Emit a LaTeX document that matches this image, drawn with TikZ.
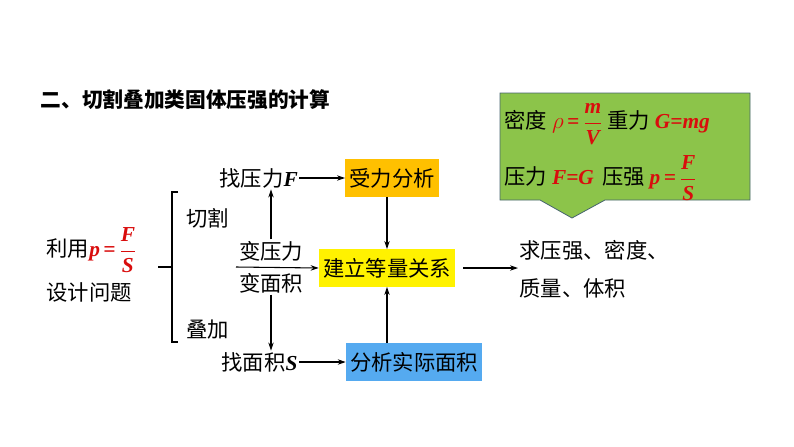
\documentclass[tikz,border=0pt]{standalone}
\usepackage{amsmath}
\usepackage{fontspec}
\setmainfont{Liberation Serif}
\newfontfamily\cjk{Noto Sans CJK SC}
\newfontfamily\tms{Liberation Serif}
\usetikzlibrary{arrows.meta}
\definecolor{vred}{rgb}{0.85,0.05,0.05}
\newcommand{\vr}[1]{{\tms\bfseries\itshape\color{vred}#1}}
\newcommand{\vb}[1]{{\tms\bfseries\itshape #1}}
\newcommand{\fr}[2]{{\color{vred}$\dfrac{\text{\tms\bfseries\itshape #1}}{\text{\tms\bfseries\itshape #2}}$}}
\begin{document}
\begin{tikzpicture}[x=0.75pt,y=-0.75pt,
 txt/.style={font=\cjk\fontsize{16}{18}\selectfont,inner sep=1pt},
 box/.style={txt,inner sep=3pt,minimum height=28pt},
 arr/.style={-{Stealth[length=6pt,width=4pt]},line width=0.8pt}]
\useasboundingbox (0,0) rectangle (794,447);
\node[font=\cjk\bfseries\fontsize{15.5}{17}\selectfont,anchor=west] (title) at (36,100) {二、切割叠加类固体压强的计算};
% callout
\draw[fill={rgb,255:red,140;green,196;blue,74},draw={rgb,255:red,70;green,100;blue,110},line width=0.6pt]
 (500,93) -- (750,93) -- (750,200) -- (605,200) -- (572,218) -- (540,200) -- (500,200) -- cycle;
\node[txt,anchor=west] (c1) at (503,124) {密度 \vr{$\rho$\,=\,}\fr{m}{V} 重力 \vr{G=mg}};
\node[txt,anchor=west] (c2) at (503,178) {压力 \vr{F=G}\, 压强 \vr{p\,=\,}\fr{F}{S}};
% left
\node[txt,anchor=west] (use) at (45,250) {利用\vr{p\,=\,}\fr{F}{S}};
\node[txt,anchor=west] (q) at (45,292) {设计问题};
\draw[line width=0.8pt] (158,267) -- (172,267);
\draw[line width=0.8pt] (178,192) -- (172,192) -- (172,342) -- (178,342);
\node[txt,anchor=west] (cut) at (185,218) {切割};
\node[txt,anchor=west] (add) at (185,330) {叠加};
\node[txt,anchor=west] (fF) at (218,178) {找压力\vb{F}};
\node[txt,anchor=west] (fS) at (220,362) {找面积\vb{S}};
\node[txt] (bp) at (271,251) {变压力};
\node[txt] (bs) at (271,283) {变面积};
% boxes
\node[box,fill={rgb,255:red,255;green,192;blue,0}] (b1) at (392,178) {受力分析};
\node[box,fill=yellow] (b2) at (387,268) {建立等量关系};
\node[box,fill={rgb,255:red,85;green,170;blue,240}] (b3) at (414,362) {分析实际面积};
\node[txt,anchor=west] (r1) at (518,250) {求压强、密度、};
\node[txt,anchor=west] (r2) at (518,288) {质量、体积};
\coordinate (h) at (236,267);
\draw[arr] (h) -- (b2.west);
\draw[arr] (bp.north) -- (fF.south-|bp.north);
\draw[arr] (bs.south) -- (fS.north-|bs.south);
\draw[arr] (fF.east) -- (b1.west);
\draw[arr] (fS.east) -- (b3.west);
\draw[arr] (b1.south-|b2.north) -- (b2.north);
\draw[arr] (b3.north-|b2.south) -- (b2.south);
\draw[arr] (b2.east)++(8,0) -- (r1.west|-b2.east);
\end{tikzpicture}
\end{document}
